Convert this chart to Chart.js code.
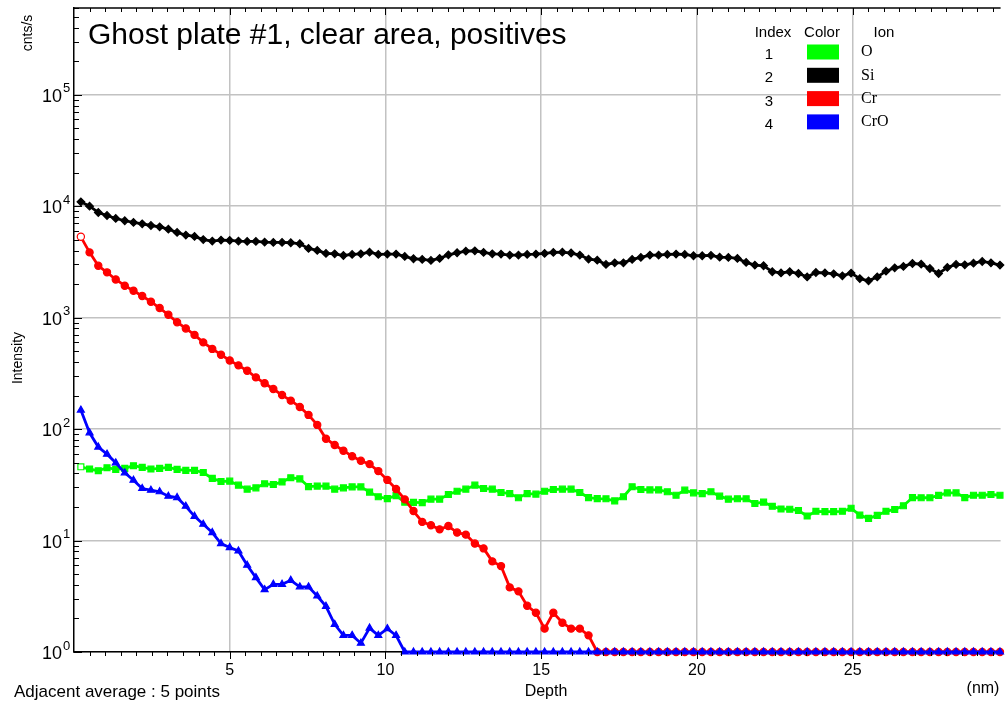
<!DOCTYPE html>
<html>
<head>
  <title>Ghost plate #1, clear area, positives</title>
  <script src="https://cdn.jsdelivr.net/npm/chart.js"></script>
  <style>
    body { margin: 0; background: #fff; }
    canvas { display: block; }
  </style>
</head>
<body>
  <canvas id="profile" width="1006" height="702"></canvas>

  <script>
    // sample depths (nm), one per sputter cycle
    const depth = [
      0.22, 0.50, 0.78, 1.06, 1.34, 1.63, 1.91, 2.19, 2.47, 2.75,
      3.03, 3.31, 3.59, 3.87, 4.15, 4.44, 4.72, 5.00, 5.28, 5.56,
      5.84, 6.12, 6.40, 6.68, 6.96, 7.25, 7.53, 7.81, 8.09, 8.37,
      8.65, 8.93, 9.21, 9.49, 9.77, 10.06, 10.34, 10.62, 10.90, 11.18,
      11.46, 11.74, 12.02, 12.30, 12.58, 12.87, 13.15, 13.43, 13.71, 13.99,
      14.27, 14.55, 14.83, 15.11, 15.39, 15.68, 15.96, 16.24, 16.52, 16.80,
      17.08, 17.36, 17.64, 17.92, 18.20, 18.49, 18.77, 19.05, 19.33, 19.61,
      19.89, 20.17, 20.45, 20.73, 21.01, 21.30, 21.58, 21.86, 22.14, 22.42,
      22.70, 22.98, 23.26, 23.54, 23.82, 24.11, 24.39, 24.67, 24.95, 25.23,
      25.51, 25.79, 26.07, 26.35, 26.63, 26.92, 27.20, 27.48, 27.76, 28.04,
      28.32, 28.60, 28.88, 29.16, 29.44, 29.73
    ];

    const oxygen = [
      45.9, 43.8, 42.3, 45, 43.5, 44.4, 46.9, 45.3, 43.8, 44.4,
      45.3, 43.5, 42.6, 42.6, 40.8, 36.1, 33.9, 34.1, 31.4, 28.9,
      29.7, 32.3, 31.8, 33.6, 36.6, 35.8, 30.5, 30.8, 30.8, 28.9,
      29.7, 30.3, 30.3, 27.2, 24.7, 23.8, 25.3, 22.1, 22.0, 21.9,
      23.5, 23.5, 25.9, 27.7, 28.9, 31.4, 29.3, 28.9, 27, 26.4,
      24.2, 26.4, 26.1, 27.7, 28.7, 28.9, 28.9, 27, 24.3, 23.8,
      23.7, 22.7, 24.7, 30.4, 28.7, 28.5, 28.5, 27.4, 25.5, 28.3,
      26.8, 26.4, 27.4, 25, 23.5, 23.7, 23.7, 21.5, 22.1, 20.3,
      19.2, 19.1, 18.6, 16.6, 18.3, 18.2, 18.2, 18.3, 19.5, 16.9,
      15.8, 16.8, 18.3, 19, 20.5, 24.3, 24.2, 24.2, 25.4, 26.8,
      26.8, 24.3, 25.5, 25.5, 25.9, 25.5
    ];

    const silicon = [
      10940, 10000, 8780, 8250, 7760, 7400, 7150, 6950, 6710, 6530,
      6220, 5810, 5500, 5350, 5020, 4860, 4960, 4930, 4860, 4830,
      4830, 4760, 4730, 4730, 4700, 4600, 4180, 4010, 3770, 3740,
      3610, 3690, 3740, 3870, 3690, 3715, 3715, 3540, 3375, 3330,
      3260, 3400, 3660, 3820, 3950, 3980, 3850, 3740, 3715, 3640,
      3640, 3690, 3715, 3770, 3850, 3870, 3800, 3640, 3350, 3280,
      3000, 3100, 3100, 3330, 3470, 3640, 3640, 3690, 3715, 3690,
      3590, 3590, 3620, 3490, 3470, 3400, 3130, 2960, 2920, 2580,
      2520, 2580, 2490, 2320, 2540, 2520, 2470, 2370, 2510, 2240,
      2140, 2320, 2610, 2800, 2880, 3060, 3020, 2760, 2490, 2820,
      3000, 2980, 3080, 3190, 3100, 2960
    ];

    // zero counts sit on the 10^0 floor
    const chromium = [
      5310, 3850, 2920, 2550, 2200, 1935, 1745, 1565, 1390, 1220,
      1060, 910, 800, 700, 600, 524, 465, 413, 373, 334,
      291, 258, 229, 202, 180, 158, 134, 109, 82, 72,
      64, 57, 52, 48.5, 42, 35, 29, 23.4, 18.4, 14.7,
      13.7, 12.6, 13.5, 11.8, 11.3, 9.4, 8.5, 6.5, 5.9, 3.8,
      3.5, 2.6, 2.25, 1.62, 2.25, 1.83, 1.62, 1.62, 1.41, 1,
      1, 1, 1, 1, 1, 1, 1, 1, 1, 1,
      1, 1, 1, 1, 1, 1, 1, 1, 1, 1,
      1, 1, 1, 1, 1, 1, 1, 1, 1, 1,
      1, 1, 1, 1, 1, 1, 1, 1, 1, 1,
      1, 1, 1, 1, 1, 1
    ];

    const chromiumOxide = [
      148, 92.6, 69, 59.6, 49.8, 40.5, 34.8, 29.3, 28.3, 27.4,
      25, 24.3, 20.3, 16.5, 14, 11.8, 9.4, 8.65, 8.07, 6.0,
      4.65, 3.63, 4.05, 4.05, 4.4, 3.84, 3.84, 3.18, 2.57, 1.77,
      1.41, 1.41, 1.2, 1.64, 1.41, 1.62, 1.41, 1, 1, 1,
      1, 1, 1, 1, 1, 1, 1, 1, 1, 1,
      1, 1, 1, 1, 1, 1, 1, 1, 1, 1,
      1, 1, 1, 1, 1, 1, 1, 1, 1, 1,
      1, 1, 1, 1, 1, 1, 1, 1, 1, 1,
      1, 1, 1, 1, 1, 1, 1, 1, 1, 1,
      1, 1, 1, 1, 1, 1, 1, 1, 1, 1,
      1, 1, 1, 1, 1, 1
    ];

    const ions = ["O", "Si", "Cr", "CrO"];
    const xTicks = [5, 10, 15, 20, 25];
    const yTicks = [1, 10, 100, 1000, 10000, 100000];

    function pts(values) {
      return depth.map((d, i) => ({ x: d, y: values[i] }));
    }

    function series(label, values, color, style, radius, order, openFirst) {
      return {
        label: label,
        data: pts(values),
        borderColor: color,
        backgroundColor: color,
        pointBackgroundColor: ctx => (openFirst && ctx.dataIndex === 0) ? "#fff" : color,
        pointBorderColor: color,
        pointStyle: style,
        pointRadius: radius,
        pointBorderWidth: 1.2,
        borderWidth: 2.8,
        tension: 0,
        clip: 10,
        order: order
      };
    }

    // draws the frame ticks, exponent labels, title and the index table
    const decorations = {
      id: "decorations",
      afterDraw(chart) {
        const ctx = chart.ctx;
        const area = chart.chartArea;
        const x = chart.scales.x;
        const y = chart.scales.y;
        ctx.save();

        ctx.strokeStyle = "#000";
        ctx.lineWidth = 1.5;
        ctx.beginPath();
        ctx.moveTo(area.left, area.top);
        ctx.lineTo(area.right, area.top);
        ctx.stroke();

        ctx.lineWidth = 1;
        ctx.beginPath();
        for (let v = 0.5; v < x.max; v += 0.5) {
          const px = Math.round(x.getPixelForValue(v)) + 0.5;
          const len = v % 5 === 0 ? 7 : 4;
          ctx.moveTo(px, area.bottom);
          ctx.lineTo(px, area.bottom + len);
          ctx.moveTo(px, area.top);
          ctx.lineTo(px, area.top + len);
        }
        for (let d = 0; d <= 5; d++) {
          for (let m = 1; m <= 9; m++) {
            const v = m * Math.pow(10, d);
            if (v > y.max) break;
            const py = Math.round(y.getPixelForValue(v)) + 0.5;
            ctx.moveTo(area.left, py);
            ctx.lineTo(area.left + (m === 1 ? 8 : 5), py);
          }
        }
        ctx.stroke();

        ctx.fillStyle = "#000";
        ctx.textBaseline = "middle";
        yTicks.forEach(v => {
          const py = y.getPixelForValue(v);
          ctx.font = '18px "Liberation Sans", Arial, sans-serif';
          ctx.textAlign = "right";
          ctx.fillText("10", 62, py + 2);
          ctx.font = '13px "Liberation Sans", Arial, sans-serif';
          ctx.textAlign = "left";
          ctx.fillText(String(Math.round(Math.log10(v))), 63, py - 6);
        });

        ctx.font = '16px "Liberation Sans", Arial, sans-serif';
        ctx.textAlign = "center";
        xTicks.forEach(v => {
          ctx.fillText(String(v), x.getPixelForValue(v), area.bottom + 19);
        });

        ctx.fillText("Depth", 546, 692);
        ctx.fillText("(nm)", 983, 689);
        ctx.textAlign = "left";
        ctx.font = '17px "Liberation Sans", Arial, sans-serif';
        ctx.fillText("Adjacent average : 5 points", 14, 692);

        ctx.font = '14px "Liberation Sans", Arial, sans-serif';
        ctx.textAlign = "center";
        ctx.save();
        ctx.translate(18, 358);
        ctx.rotate(-Math.PI / 2);
        ctx.fillText("Intensity", 0, 0);
        ctx.restore();
        ctx.save();
        ctx.translate(28, 33);
        ctx.rotate(-Math.PI / 2);
        ctx.fillText("cnts/s", 0, 0);
        ctx.restore();

        ctx.font = '30px "Liberation Sans", Arial, sans-serif';
        ctx.textAlign = "left";
        ctx.fillText("Ghost plate #1, clear area, positives", 88, 36);

        // index / color / ion table
        ctx.font = '15px "Liberation Sans", Arial, sans-serif';
        ctx.textAlign = "center";
        ctx.fillText("Index", 773, 33);
        ctx.fillText("Color", 822, 33);
        ctx.fillText("Ion", 884, 33);
        const byLabel = {};
        chart.data.datasets.forEach(ds => { byLabel[ds.label] = ds.borderColor; });
        ions.forEach((ion, i) => {
          const rowY = 52 + i * 23.3;
          ctx.font = '15px "Liberation Sans", Arial, sans-serif';
          ctx.textAlign = "center";
          ctx.fillStyle = "#000";
          ctx.fillText(String(i + 1), 769, rowY + 3);
          ctx.fillStyle = byLabel[ion];
          ctx.fillRect(807, rowY - 7.5, 32, 15);
          ctx.fillStyle = "#000";
          ctx.font = '16px "Liberation Serif", "Times New Roman", serif';
          ctx.textAlign = "left";
          ctx.fillText(ion, 861, rowY);
        });

        ctx.restore();
      }
    };

    new Chart(document.getElementById("profile"), {
      type: "line",
      data: {
        datasets: [
          series("CrO", chromiumOxide, "#0000ff", "triangle", 4, 0, false),
          series("Cr", chromium, "#ff0000", "circle", 3.6, 1, true),
          series("Si", silicon, "#000000", "rectRot", 3.8, 2, false),
          series("O", oxygen, "#00ff00", "rect", 4.2, 3, true)
        ]
      },
      options: {
        responsive: false,
        animation: false,
        layout: { padding: { left: 74, top: 8, right: 0, bottom: 50 } },
        plugins: {
          legend: { display: false },
          tooltip: { enabled: false }
        },
        scales: {
          x: {
            type: "linear",
            min: 0,
            max: 29.75,
            afterBuildTicks: s => { s.ticks = xTicks.map(v => ({ value: v })); },
            ticks: { display: false },
            grid: { color: "#c2c2c2", lineWidth: 1.5, drawTicks: false },
            border: { color: "#000", width: 1.5 }
          },
          y: {
            type: "logarithmic",
            min: 1,
            max: 600000,
            afterBuildTicks: s => { s.ticks = yTicks.map(v => ({ value: v })); },
            ticks: { display: false },
            grid: { color: "#c2c2c2", lineWidth: 1.5, drawTicks: false },
            border: { color: "#000", width: 1.5 }
          }
        }
      },
      plugins: [decorations]
    });
  </script>
</body>
</html>
